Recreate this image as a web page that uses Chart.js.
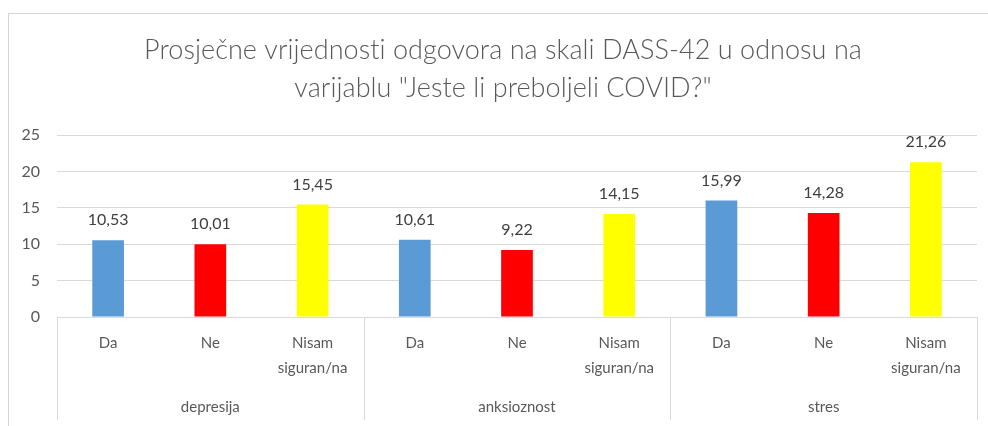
<!DOCTYPE html>
<html>
<head>
<meta charset="utf-8">
<script src="https://cdn.jsdelivr.net/npm/chart.js@4"></script>
<style>
  html, body { margin: 0; padding: 0; background: #fff; overflow: hidden; }
  #frame { position: absolute; left: 8px; top: 13px; width: 1000px; height: 430px;
           border-left: 1px solid #d4d4d4; border-top: 1px solid #d4d4d4; }
  #dass { position: absolute; left: 0; top: 0; }
</style>
</head>
<body>
<div id="frame"></div>
<canvas id="dass" width="988" height="426"></canvas>
<script>
const groups = ['depresija', 'anksioznost', 'stres'];
const answers = [['Da'], ['Ne'], ['Nisam', 'siguran/na']];
const answerColors = ['#5B9BD5', '#FF0000', '#FFFF00'];
const means = [10.53, 10.01, 15.45, 10.61, 9.22, 14.15, 15.99, 14.28, 21.26];
const yTicks = [0, 5, 10, 15, 20, 25];
const titleLines = ['Prosječne vrijednosti odgovora na skali DASS-42 u odnosu na',
                    'varijablu "Jeste li preboljeli COVID?"'];

const labels = [];
const colors = [];
groups.forEach(() => {
  answers.forEach((a, i) => {
    labels.push(a);
    colors.push(answerColors[i]);
  });
});

const FONT = 'Lato, "Open Sans", sans-serif';

// two-line heading, centred on the framed box rather than the canvas
const heading = {
  id: 'heading',
  afterDraw(chart) {
    const ctx = chart.ctx;
    ctx.save();
    ctx.font = '300 27px ' + FONT;
    ctx.letterSpacing = '0.05px'; // keeps "ti" from turning into a ligature
    ctx.fillStyle = '#595959';
    ctx.textAlign = 'center';
    ctx.textBaseline = 'middle';
    titleLines.forEach((t, i) => ctx.fillText(t, 503, 50 + i * 38));
    ctx.restore();
  }
};

// value above each bar, decimal comma
const valueLabels = {
  id: 'valueLabels',
  afterDatasetsDraw(chart) {
    const ctx = chart.ctx;
    const meta = chart.getDatasetMeta(0);
    ctx.save();
    ctx.font = '16px ' + FONT;
    ctx.fillStyle = '#404040';
    ctx.textAlign = 'center';
    ctx.textBaseline = 'middle';
    meta.data.forEach((bar, i) => {
      const v = chart.data.datasets[0].data[i];
      ctx.fillText(v.toFixed(2).replace('.', ','), bar.x, bar.y - 20);
    });
    ctx.restore();
  }
};

// vertical separators between the groups under the axis
const groupDividers = {
  id: 'groupDividers',
  afterDraw(chart) {
    const x = chart.scales.x;
    const area = chart.chartArea;
    const n = answers.length;
    const xs = [area.left];
    for (let g = 1; g < groups.length; g++) {
      const i = g * n;
      xs.push((x.getPixelForValue(i - 1) + x.getPixelForValue(i)) / 2);
    }
    xs.push(area.right);
    const ctx = chart.ctx;
    ctx.save();
    ctx.strokeStyle = '#d9d9d9';
    ctx.lineWidth = 1;
    xs.forEach(px => {
      const p = Math.round(px) + 0.5;
      ctx.beginPath();
      ctx.moveTo(p, area.bottom);
      ctx.lineTo(p, 420);
      ctx.stroke();
    });
    ctx.restore();
  }
};

new Chart(document.getElementById('dass'), {
  type: 'bar',
  data: {
    labels: labels,
    datasets: [{
      data: means,
      backgroundColor: colors,
      categoryPercentage: 1,
      barPercentage: 0.31
    }]
  },
  options: {
    responsive: false,
    animation: false,
    devicePixelRatio: 1,
    layout: { padding: { left: 0, right: 11, top: 135, bottom: 0 } },
    plugins: {
      legend: { display: false },
      tooltip: { enabled: false },
      title: { display: false }
    },
    scales: {
      y: {
        min: 0,
        max: 25,
        afterBuildTicks(scale) { scale.ticks = yTicks.map(v => ({ value: v })); },
        afterFit(scale) { scale.width = 57; },
        grid: { color: '#d9d9d9', drawTicks: false },
        border: { display: false },
        ticks: { color: '#595959', padding: 17, font: { family: FONT, size: 16 } }
      },
      x: {
        weight: 0,
        afterFit(scale) { scale.height = 75; },
        grid: { display: false, drawTicks: false },
        border: { display: true, color: '#d9d9d9' },
        ticks: {
          autoSkip: false, maxRotation: 0, color: '#595959', padding: 13.5,
          font: { family: FONT, size: 15, lineHeight: 25 / 15 }
        }
      },
      x2: {
        type: 'category',
        position: 'bottom',
        weight: 1,
        labels: groups,
        offset: true,
        afterFit(scale) { scale.height = 34; },
        grid: { display: false, drawTicks: false },
        border: { display: false },
        ticks: {
          autoSkip: false, maxRotation: 0, color: '#595959', padding: 2.5,
          font: { family: FONT, size: 15, lineHeight: 25 / 15 }
        }
      }
    }
  },
  plugins: [heading, valueLabels, groupDividers]
});
</script>
</body>
</html>
